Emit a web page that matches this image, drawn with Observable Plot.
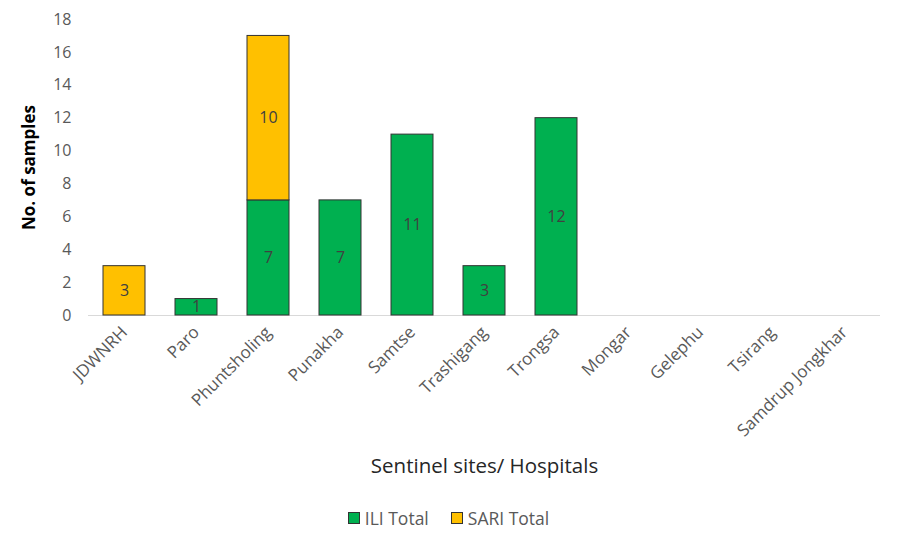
<!DOCTYPE html>
<html>
<head>
<meta charset="utf-8">
<script src="https://cdn.jsdelivr.net/npm/d3@7"></script>
<script src="https://cdn.jsdelivr.net/npm/@observablehq/plot@0.6"></script>
<style>
  body { margin: 0; background: #fff; font-family: "Open Sans", sans-serif; }
  #legend { display: flex; justify-content: center; gap: 22px; font-size: 17.5px; color: #595959; margin-top: 9px; padding-left: 0px; }
  #legend span.sw { display: inline-block; width: 10px; height: 10px; border: 1px solid #333; margin-right: 5px; vertical-align: 1px; }
</style>
</head>
<body>
<div id="chart"></div>
<div id="legend"></div>
<script>
const sites = ["JDWNRH","Paro","Phuntsholing","Punakha","Samtse","Trashigang","Trongsa","Mongar","Gelephu","Tsirang","Samdrup Jongkhar"];
const iliTotal  = [0, 1, 7, 7, 11, 3, 12, 0, 0, 0, 0];
const sariTotal = [3, 0, 10, 0, 0, 0, 0, 0, 0, 0, 0];
const seriesNames = ["ILI Total", "SARI Total"];
const seriesColors = ["#00B050", "#FFC000"];
const yTicks = [0, 2, 4, 6, 8, 10, 12, 14, 16, 18];

const data = [];
sites.forEach((s, i) => {
  data.push({site: s, series: seriesNames[0], value: iliTotal[i]});
  data.push({site: s, series: seriesNames[1], value: sariTotal[i]});
});
const nonzero = data.filter(d => d.value > 0);

const chart = Plot.plot({
  width: 897,
  height: 497,
  marginLeft: 88,
  marginRight: 17,
  marginTop: 19,
  marginBottom: 182,
  style: {fontFamily: "Open Sans, sans-serif", background: "#fff"},
  x: {domain: sites, paddingInner: 0.42, paddingOuter: 0.21},
  y: {domain: [0, 18]},
  color: {domain: seriesNames, range: seriesColors},
  marks: [
    Plot.ruleY([0], {stroke: "#d9d9d9", strokeWidth: 1}),
    Plot.barY(nonzero, Plot.stackY({x: "site", y: "value", fill: "series", stroke: "#333", strokeWidth: 1, order: null})),
    Plot.text(nonzero, Plot.stackY({x: "site", y: "value", text: "value", order: null, fill: "#404040", fontSize: 16})),
    Plot.axisY({ticks: yTicks, tickSize: 0, tickPadding: 17, fontSize: 16, color: "#595959",
      label: "No. of samples", labelAnchor: "center", labelArrow: "none", labelOffset: 66}),
    Plot.axisX({tickSize: 0, tickPadding: 14, tickRotate: -45, fontSize: 17, color: "#595959",
      label: "Sentinel sites/ Hospitals", labelAnchor: "center", labelArrow: "none", labelOffset: 157})
  ]
});
// style axis titles
d3.select(chart).selectAll("g[aria-label='y-axis label'] text")
  .style("font-size", "17px").style("fill", "#000").style("font-weight", "bold");
d3.select(chart).selectAll("g[aria-label='x-axis label'] text")
  .style("font-size", "20.5px").style("fill", "#262626");
document.getElementById("chart").appendChild(chart);

const legend = document.getElementById("legend");
seriesNames.forEach((n, i) => {
  const item = document.createElement("div");
  item.innerHTML = `<span class="sw" style="background:${seriesColors[i]}"></span>${n}`;
  legend.appendChild(item);
});
</script>
</body>
</html>
